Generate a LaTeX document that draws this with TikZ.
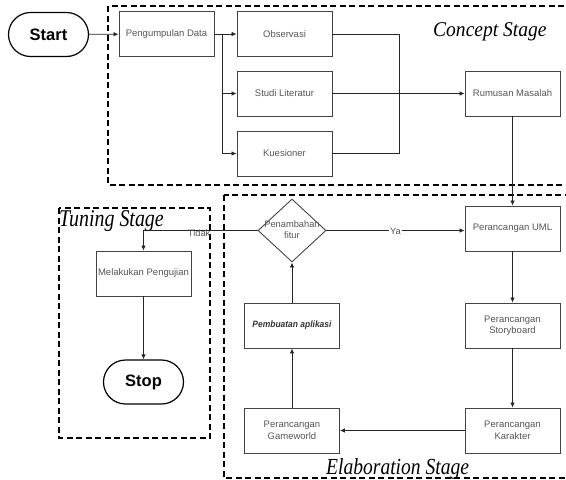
\documentclass[tikz,border=0pt]{standalone}
\usepackage{fontspec}
\setmainfont{Liberation Sans}
\newfontfamily\stagefont{Liberation Serif}
\usetikzlibrary{shapes.geometric,arrows.meta}
\definecolor{boxline}{HTML}{444444}
\definecolor{boxtext}{HTML}{555555}
\tikzset{
  procbox/.style={draw=boxline, line width=0.9pt, minimum width=95pt, minimum height=45pt, inner sep=1pt, align=center, text=boxtext, font=\fontsize{9.5}{11.5}\selectfont},
  terminal/.style={draw=black, line width=1.2pt, rounded corners=22pt, minimum width=80pt, minimum height=44pt, font=\fontsize{16.5}{18}\selectfont\bfseries},
  decbox/.style={draw=boxline, line width=0.9pt, diamond, minimum width=68pt, minimum height=63pt, inner sep=0pt},
  conn/.style={draw=black!85, line width=0.8pt},
  arr/.style={conn, -{Latex[length=5pt,width=4.5pt]}},
  stagebox/.style={draw=black, line width=1.4pt, dash pattern=on 6pt off 3.5pt},
  stagelabel/.style={anchor=base west, inner sep=0pt},
  edgetext/.style={text=boxtext, font=\fontsize{9.3}{11}\selectfont, inner sep=1pt}
}
\begin{document}
\begin{tikzpicture}[x=1pt,y=-1pt]
\useasboundingbox (0,0) rectangle (566,480);
\clip (0,0) rectangle (566,480);
% stage frames
\draw[stagebox] (108,6) rectangle (575,185);
\draw[stagebox] (224,195) rectangle (575,478);
\draw[stagebox] (59,208) rectangle (210,438);
% stage labels
\node[stagelabel] (lconcept) at (433,36) {\scalebox{0.93}[1]{\stagefont\itshape\fontsize{21}{21}\selectfont Concept Stage}};
\node[stagelabel] (ltuning) at (59,226) {\scalebox{0.83}[1]{\stagefont\itshape\fontsize{24}{24}\selectfont Tuning Stage}};
\node[stagelabel] (lelab) at (326,474.5) {\scalebox{0.85}[1]{\stagefont\itshape\fontsize{23}{23}\selectfont Elaboration Stage}};
% nodes
\node[terminal] (start) at (48.5,34.5) {Start};
\node[procbox] (pd) at (166.5,34) {Pengumpulan Data};
\node[procbox] (obs) at (284.5,34) {Observasi};
\node[procbox] (studi) at (284.5,93.5) {Studi Literatur};
\node[procbox] (kues) at (284.5,153.5) {Kuesioner};
\node[procbox] (rum) at (512.5,93.5) {Rumusan Masalah};
\node[procbox] (uml) at (512.5,228.5) {Perancangan UML};
\node[procbox] (story) at (512.5,325.5) {Perancangan\\Storyboard};
\node[procbox] (kar) at (512.5,430.5) {Perancangan\\Karakter};
\node[procbox] (game) at (292,430.5) {Perancangan\\Gameworld};
\node[procbox, font=\fontsize{9.2}{11}\selectfont\bfseries\itshape, text=black!80] (pemb) at (292,325.5) {\scalebox{0.92}[1]{Pembuatan aplikasi}};
\node[decbox] (dia) at (292,230.5) {};
\node[edgetext, align=center] (dialabel) at (292,230) {Penambahan\\fitur};
\node[procbox] (mel) at (143.5,273.5) {Melakukan Pengujian};
\node[terminal] (stop) at (143.5,382) {Stop};
% coordinates
\coordinate (j) at (222,34);
\coordinate (m) at (399,93.5);
% connectors
\draw[arr] (start) -- (pd);
\draw[arr] (pd) -- (obs);
\draw[arr] (j) |- (studi);
\draw[arr] (j) |- (kues);
\draw[conn] (obs.east) -| (m);
\draw[conn] (kues.east) -| (m);
\draw[arr] (studi) -- (rum);
\draw[arr] (rum) -- (uml);
\draw[arr] (uml) -- (story);
\draw[arr] (story) -- (kar);
\draw[arr] (kar) -- (game);
\draw[arr] (game) -- (pemb);
\draw[arr] (pemb) -- (dia);
\draw[arr] (dia.east) -- node[edgetext, fill=white, pos=0.5, yshift=-1pt] (ya) {Ya} (dia.east -| uml.west);
\draw[arr] (dia.west) -| node[edgetext, pos=0.256, yshift=-2.5pt] (tidak) {Tidak} (mel.north);
\draw[arr] (mel) -- (stop);
\end{tikzpicture}
\end{document}
